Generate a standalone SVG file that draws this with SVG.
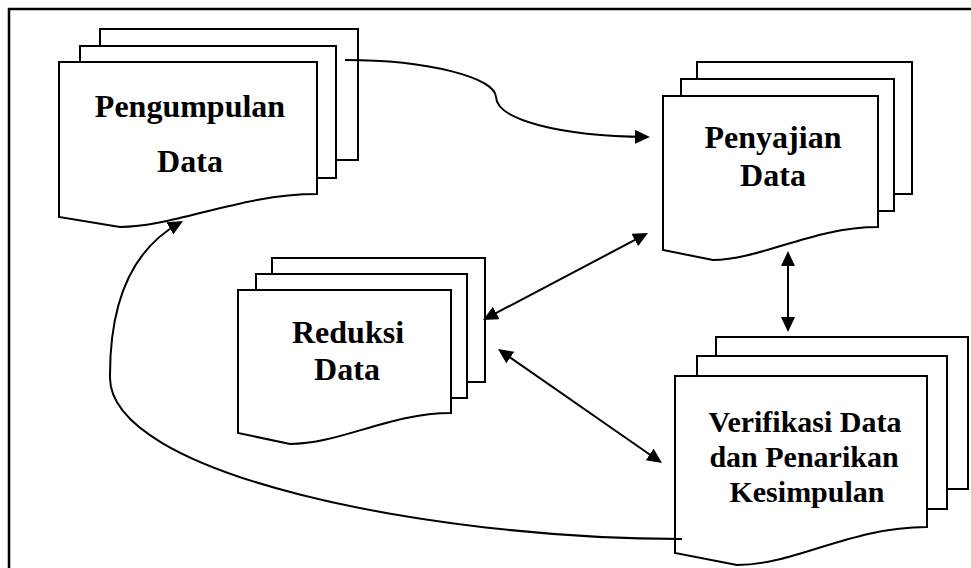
<svg xmlns="http://www.w3.org/2000/svg" width="971" height="568" viewBox="0 0 971 568">
  <style>
    .page { fill: #fff; stroke: #000; stroke-width: 2; stroke-linejoin: miter; }
    .label { font-family: "Liberation Serif", "Times New Roman", serif; font-weight: bold; font-size: 32px; text-anchor: middle; fill: #000; }
    .label.tight { font-size: 30px; }
    .link { fill: none; stroke: #000; stroke-width: 2; }
    .frame { fill: none; stroke: #000; stroke-width: 2.5; }
  </style>
  <defs>
    <marker id="arrow" markerUnits="userSpaceOnUse" markerWidth="16" markerHeight="16" refX="11" refY="7" orient="auto-start-reverse">
      <path d="M0,0 L15,7 L0,14 Z" fill="#000"/>
    </marker>
  </defs>

  <rect width="971" height="568" fill="#fff"/>
  <!-- outer frame: top and left edges -->
  <path class="frame" d="M9,568 V9 H971"/>

  <!-- stacked document: Pengumpulan Data -->
  <g id="pengumpulan">
    <rect class="page" x="100" y="29" width="258" height="131"/>
    <rect class="page" x="80" y="46" width="256" height="132"/>
    <path class="page" d="M59,62 H317 V194 C240,194 175,227 120,227 L59,217 Z"/>
    <text class="label" x="190" y="117">Pengumpulan</text>
    <text class="label" x="190" y="172">Data</text>
  </g>

  <!-- stacked document: Penyajian Data -->
  <g id="penyajian">
    <rect class="page" x="697" y="62" width="215" height="132"/>
    <rect class="page" x="681" y="79" width="213" height="132"/>
    <path class="page" d="M663,96 H878 V227 C813,227 760,260 713,260 L663,250 Z"/>
    <text class="label" x="773" y="148">Penyajian</text>
    <text class="label" x="773" y="186">Data</text>
  </g>

  <!-- stacked document: Reduksi Data -->
  <g id="reduksi">
    <rect class="page" x="272" y="258" width="213" height="124"/>
    <rect class="page" x="256" y="274" width="211" height="124"/>
    <path class="page" d="M238,290 H451 V413 C390,413 340,444 290,444 L238,433 Z"/>
    <text class="label" x="348" y="343">Reduksi</text>
    <text class="label" x="347" y="380">Data</text>
  </g>

  <!-- stacked document: Verifikasi Data dan Penarikan Kesimpulan -->
  <g id="verifikasi">
    <rect class="page" x="716" y="337" width="252" height="152"/>
    <rect class="page" x="697" y="356" width="250" height="153"/>
    <path class="page" d="M675,376 H927 V527 C850,527 795,565 737,565 L675,553 Z"/>
    <text class="label tight" x="805" y="432">Verifikasi Data</text>
    <text class="label tight" x="804" y="467">dan Penarikan</text>
    <text class="label tight" x="807" y="502">Kesimpulan</text>
  </g>

  <!-- connectors -->
  <g id="connectors">
    <path class="link" d="M345,60 C430,60 495,78 496,97 C497,120 560,136 646,137" marker-end="url(#arrow)"/>
    <path class="link" d="M486.5,318.1 L644.5,234.9" marker-start="url(#arrow)" marker-end="url(#arrow)"/>
    <path class="link" d="M501.3,351.3 L658.7,460.7" marker-start="url(#arrow)" marker-end="url(#arrow)"/>
    <path class="link" d="M788,255 V328" marker-start="url(#arrow)" marker-end="url(#arrow)"/>
    <path class="link" d="M682,539 C430,539 105,475 110,375 C110,290 140,245 179.5,223" marker-end="url(#arrow)"/>
  </g>
</svg>
